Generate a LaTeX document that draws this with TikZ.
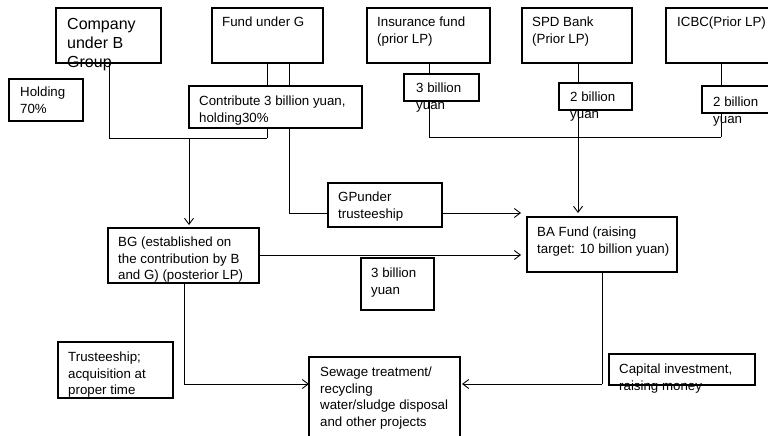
\documentclass[tikz,border=0pt]{standalone}
\usepackage{fontspec}
\setmainfont{Liberation Sans}
\usetikzlibrary{arrows.meta}
\begin{document}
\begin{tikzpicture}[x=1pt, y=-1pt,
  box/.style={draw, line width=2pt, fill=white, inner sep=0pt, outer sep=0pt, anchor=north west},
  txt/.style={anchor=north west, inner sep=0pt, align=left, font=\fontsize{13.3}{16.5}\selectfont},
  bigtxt/.style={anchor=north west, inner sep=0pt, align=left, font=\fontsize{16}{19}\selectfont},
  link/.style={draw, line width=0.9pt},
  arr/.style={link, -{Straight Barb[length=6pt, width=9pt, line width=0.9pt]}}
]
\useasboundingbox (0,0) rectangle (768,436);

% box helper: name, x1, y1, x2, y2
\newcommand{\mkbox}[5]{\node[box, minimum width={#4-#2}, minimum height={#5-#3}] (#1) at (#2,#3) {};}

% --- connectors drawn first so boxes sit on top of them ---
\coordinate (jL) at (109,138);
\coordinate (jR) at (267,138);
\coordinate (jM) at (189,138);
\coordinate (gpTurn) at (289,213);
\coordinate (lpL) at (429,137);
\coordinate (lpR) at (721,137);
\coordinate (lpM) at (578,137);
\coordinate (gpTip) at (521,213);
\coordinate (bgTip) at (521,255);
\coordinate (bgFoot) at (184,384);
\coordinate (baFoot) at (602,384);

% top row of boxes
\mkbox{comp}{56}{8}{161}{63}
\mkbox{fundG}{212}{8}{323}{63}
\mkbox{ins}{367}{8}{490}{63}
\mkbox{spd}{522}{8}{632}{63}
\mkbox{icbc}{666}{8}{790}{63}

% vertical feeds (pass behind the amount boxes)
\draw[link] (comp.south -| jL) -- (jL) -- (jR);
\draw[link] (fundG.south -| jR) -- (jR);
\draw[link] (fundG.south -| gpTurn) -- (gpTurn);
\draw[link] (ins.south -| lpL) -- (lpL) -- (lpR);
\draw[link] (icbc.south -| lpR) -- (lpR);
\draw[arr] (spd.south -| lpM) -- (lpM |- gpTip);

% amount boxes on the feeds
\mkbox{hold}{9}{79}{83}{121}
\mkbox{contrib}{189}{86}{362}{128}
\mkbox{ins3}{404}{74}{479}{101}
\mkbox{spd2}{559}{83}{632}{110}
\mkbox{icbc2}{702}{86}{790}{113}

% middle and lower boxes
\mkbox{gp}{328}{183}{442}{227}
\mkbox{bg}{108}{228}{259}{283}
\mkbox{ba}{527}{217}{677}{272}
\mkbox{mid3}{361}{258}{434}{310}
\mkbox{trust}{58}{342}{173}{398}
\mkbox{sew}{309}{357}{460}{450}
\mkbox{cap}{609}{354}{755}{385}

% remaining connectors
\draw[arr] (jM) -- ([yshift=3pt]bg.north -| jM);
\draw[link] (gpTurn) -- (gp.west |- gpTurn);
\draw[arr] (gp.east |- gpTip) -- (gpTip);
\draw[arr] (bg.east |- bgTip) -- (bgTip);
\draw[link] (bg.south -| bgFoot) -- (bgFoot);
\draw[arr] (bgFoot) -- (sew.west |- bgFoot);
\draw[link] (ba.south -| baFoot) -- (baFoot);
\draw[arr] (baFoot) -- ([xshift=2pt]sew.east |- baFoot);

% texts
\node[bigtxt] (tComp) at (67,18) {Company\\under B\\Group};
\node[txt] (tFund) at (222,17) {Fund under G};
\node[txt] (tIns) at (377,17) {Insurance fund\\(prior LP)};
\node[txt] (tSpd) at (532,17) {SPD Bank\\(Prior LP)};
\node[txt] (tIcbc) at (677,17) {ICBC(Prior LP)};
\node[txt] (tHold) at (20,87) {Holding\\70\%};
\node[txt] (tContrib) at (199,96) {Contribute 3 billion yuan,\\holding30\%};
\node[txt] (tIns3) at (416,83) {3 billion\\yuan};
\node[txt] (tSpd2) at (570,92) {2 billion\\yuan};
\node[txt] (tIcbc2) at (713,97) {2 billion\\yuan};
\node[txt] (tGp) at (338,192) {GPunder\\trusteeship};
\node[txt] (tBg) at (118,237) {BG (established on\\the contribution by B\\and G) (posterior LP)};
\node[txt] (tBa) at (537,227) {BA Fund (raising\\target: 10 billion yuan)};
\node[txt] (tMid3) at (371,268) {3 billion\\yuan};
\node[txt] (tTrust) at (68,352) {Trusteeship;\\acquisition at\\proper time};
\node[txt] (tSew) at (320,367) {Sewage treatment/\\recycling\\water/sludge disposal\\and other projects};
\node[txt] (tCap) at (619,364) {Capital investment,\\raising money};
\end{tikzpicture}
\end{document}
